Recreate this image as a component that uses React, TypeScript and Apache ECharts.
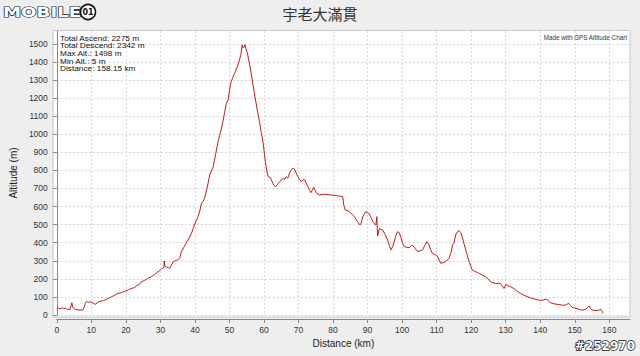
import React, { useEffect, useRef } from "react";
import * as echarts from "echarts";

const title = "宇老大滿貫";
const statsLines = [
  "Total Ascend: 2275 m",
  "Total Descend: 2342 m",
  "Max Alt.: 1498 m",
  "Min Alt.: 5 m",
  "Distance: 158.15 km",
];
const creditText = "Made with GPS Altitude Chart";
const watermark = "#252970";
const xName = "Distance (km)";
const yName = "Altitude (m)";
const xTicks = [0, 10, 20, 30, 40, 50, 60, 70, 80, 90, 100, 110, 120, 130, 140, 150, 160];
const yTicks = [0, 100, 200, 300, 400, 500, 600, 700, 800, 900, 1000, 1100, 1200, 1300, 1400, 1500];

const distanceKm = [
  0, 0.5, 1, 1.5, 2, 2.5, 3, 3.8, 4.2, 4.35, 4.6, 5, 5.5, 6.5, 7.5, 8.0, 8.3, 8.7, 9.2, 9.6,
  10.2, 10.8, 11.3, 12, 12.8, 13.5, 14.2, 14.9, 15.6, 16.3, 17.0, 17.8, 18.5, 19.2, 20, 20.8, 21.5, 22.2, 22.6, 23.3,
  24, 24.5, 25.2, 26, 26.7, 27.4, 28.2, 29, 30, 30.6, 31.0, 31.1, 31.3, 31.8, 32.3, 32.7, 33.2, 33.7, 34.3, 35,
  35.6, 36.1, 36.8, 37.4, 38, 38.5, 39, 39.5, 40, 40.5, 40.9, 41.4, 41.9, 42.4, 42.8, 43.5, 44.3, 45.3, 46.0, 46.7,
  47.4, 48.1, 48.6, 49.1, 49.6, 50.0, 50.5, 51.0, 51.5, 52.2, 52.9, 53.3, 53.7, 53.95, 54.2, 54.5, 54.8, 55.2, 55.8, 56.3,
  56.8, 57.3, 58.0, 58.7, 59.2, 59.7, 60.2, 60.6, 61.0, 61.3, 61.9, 62.4, 62.9, 63.4, 64.0, 64.5, 65, 65.6, 66.0, 66.4,
  66.9, 67.5, 68.2, 68.6, 69.0, 69.8, 70.3, 70.8, 71.3, 71.8, 72.2, 72.7, 73.2, 73.6, 74.0, 74.4, 74.8, 75.1, 76, 77.5,
  79.4, 81, 82.8, 83.1, 83.5, 84.1, 84.7, 85.5, 86.2, 87.1, 87.8, 88.2, 88.6, 89.5, 90.0, 90.5, 91.0, 91.5, 92.0, 92.4,
  92.7, 92.8, 92.9, 93.4, 94.4, 95.1, 95.8, 96.3, 96.8, 97.3, 97.7, 98.2, 98.7, 99.2, 99.6, 100.1, 100.6, 101.3, 102, 102.5,
  103, 103.7, 104.5, 105.2, 105.9, 106.6, 107.2, 107.8, 108.3, 108.8, 109.3, 109.8, 110.2, 110.7, 111.2, 111.9, 112.6, 113.1, 113.6, 114.1,
  114.6, 115.0, 115.5, 116.0, 116.5, 117.0, 117.4, 118.0, 118.7, 119.5, 120.3, 121.0, 121.8, 122.5, 123.2, 124.2, 124.9, 125.6, 126.3, 127,
  128.5, 129.0, 129.5, 130.1, 130.7, 131.4, 132.2, 132.9, 133.6, 134.3, 135.2, 136.2, 137.2, 138.2, 139.2, 140.1, 141.0, 141.8, 142.4, 143,
  144, 144.9, 146, 146.9, 147.6, 148.3, 148.8, 149.3, 150, 150.7, 151.4, 152.1, 153.1, 153.7, 154.2, 154.6, 155, 155.8, 156.5, 157.1,
  157.6, 158.0, 158.2,
];
const altitudeM = [
  30, 38, 35, 40, 36, 38, 32, 30, 55, 68, 45, 35, 30, 28, 28, 45, 70, 75, 68, 74,
  70, 62, 60, 72, 76, 80, 85, 92, 98, 105, 112, 120, 122, 128, 134, 140, 146, 150, 153, 165,
  170, 184, 190, 198, 206, 212, 222, 235, 249, 258, 262, 299, 270, 265, 262, 258, 275, 295, 300, 305,
  314, 350, 375, 395, 415, 432, 452, 478, 507, 525, 544, 575, 618, 630, 646, 700, 775, 821, 890, 959,
  1010, 1070, 1120, 1171, 1190, 1240, 1291, 1315, 1337, 1370, 1411, 1440, 1494, 1478, 1480, 1495, 1470, 1448, 1390, 1337,
  1275, 1217, 1140, 1070, 1010, 959, 880, 821, 780, 765, 760, 735, 716, 710, 725, 735, 747, 755, 750, 765,
  757, 790, 810, 812, 800, 765, 750, 738, 748, 747, 730, 710, 690, 677, 690, 707, 690, 677, 664, 668,
  664, 660, 655, 609, 581, 578, 572, 558, 544, 516, 498, 510, 544, 572, 565, 560, 540, 516, 505, 498,
  544, 480, 437, 478, 470, 445, 415, 385, 360, 380, 405, 440, 461, 455, 433, 400, 378, 375, 373, 380,
  387, 370, 350, 355, 360, 385, 405, 387, 360, 341, 335, 332, 327, 305, 286, 290, 295, 305, 313, 341,
  387, 397, 443, 460, 467, 455, 433, 390, 341, 290, 249, 242, 235, 228, 221, 212, 200, 184, 178, 175,
  175, 160, 147, 169, 162, 157, 148, 138, 128, 120, 110, 102, 95, 89, 84, 80, 84, 87, 78, 68,
  62, 59, 56, 53, 58, 65, 52, 42, 38, 35, 30, 27, 31, 40, 50, 35, 27, 25, 24, 28,
  31, 20, 9,
];

const FONT = "Liberation Sans";

export default function App() {
  const ref = useRef<HTMLDivElement>(null);
  useEffect(() => {
    if (!ref.current) return;
    const chart = echarts.init(ref.current, null, { renderer: "svg" });
    const points = distanceKm.map((d, i) => [d, altitudeM[i]]);
    const statsTexts = statsLines.map((line, i) => ({
      type: "text",
      x: 60,
      y: 38.4 + i * 7.6,
      z: 10,
      scaleX: 1.12,
      style: {
        text: line,
        fontSize: 7.4,
        fill: "#111",
        fontFamily: FONT,
        align: "left",
        verticalAlign: "middle",
      },
    }));
    chart.setOption({
      animation: false,
      backgroundColor: "#eeeeee",
      textStyle: { fontFamily: FONT },
      grid: { left: 55, right: 10, top: 31, bottom: 41, containLabel: false },
      xAxis: {
        type: "value",
        min: 0,
        max: 166,
        interval: 10,
        offset: 4,
        name: xName,
        nameLocation: "middle",
        nameGap: 18,
        nameTextStyle: { fontSize: 10, color: "#222", fontFamily: FONT },
        axisLine: { show: true, onZero: false, lineStyle: { color: "#888", width: 1 } },
        axisTick: { show: true, length: 4, customValues: xTicks, lineStyle: { color: "#888" } },
        axisLabel: {
          customValues: xTicks,
          fontSize: 8.5,
          color: "#333",
          margin: 6,
          fontFamily: FONT,
          formatter: (v: number) => (v % 10 === 0 ? String(v) : ""),
        },
        splitLine: { show: true, lineStyle: { color: "#d6d6d6", type: [2, 2], width: 1 } },
      },
      yAxis: {
        type: "value",
        min: 0,
        max: 1571,
        interval: 100,
        offset: 3,
        name: yName,
        nameLocation: "middle",
        nameGap: 30,
        nameTextStyle: { fontSize: 10, color: "#222", fontFamily: FONT },
        axisLine: { show: true, lineStyle: { color: "#888", width: 1 } },
        axisTick: { show: true, length: 4, customValues: yTicks, lineStyle: { color: "#888" } },
        axisLabel: {
          customValues: yTicks,
          fontSize: 8.5,
          color: "#333",
          margin: 6,
          fontFamily: FONT,
          formatter: (v: number) => (v % 100 === 0 ? String(v) : ""),
        },
        splitLine: { show: true, lineStyle: { color: "#d6d6d6", type: [2, 2], width: 1 } },
      },
      graphic: [
        {
          type: "rect",
          z: -10,
          silent: true,
          shape: { x: 53, y: 30.5, width: 577, height: 286.5 },
          style: { fill: "#ffffff", stroke: "#c8c8c8", lineWidth: 1 },
        },
        {
          type: "text",
          x: 320,
          y: 13,
          style: {
            text: title,
            fontSize: 15,
            fill: "#333",
            fontFamily: "Noto Sans CJK TC",
            align: "center",
            verticalAlign: "middle",
          },
        },
        ...statsTexts,
        {
          type: "text",
          x: 627,
          y: 37,
          z: 10,
          style: {
            text: creditText,
            fontSize: 6.3,
            fill: "#333",
            fontFamily: FONT,
            align: "right",
            verticalAlign: "middle",
          },
        },
        {
          type: "text",
          x: 635,
          y: 346,
          style: {
            text: watermark,
            fontSize: 12,
            fontWeight: "bold",
            fill: "#ffffff",
            stroke: "#111",
            lineWidth: 1.3,
            fontFamily: "DejaVu Sans",
            align: "right",
            verticalAlign: "middle",
          },
        },
        {
          type: "text",
          x: 3,
          y: 12,
          scaleX: 1.3,
          style: {
            text: "MOBILE",
            fontSize: 14,
            fontWeight: "bold",
            fill: "#ffffff",
            stroke: "#111",
            lineWidth: 1.2,
            fontFamily: "DejaVu Sans",
            align: "left",
            verticalAlign: "middle",
          },
        },
        {
          type: "circle",
          shape: { cx: 88, cy: 12, r: 7.5 },
          style: { fill: "#fff", stroke: "#111", lineWidth: 1.6 },
        },
        {
          type: "text",
          x: 88,
          y: 12.5,
          style: {
            text: "01",
            fontSize: 8,
            fontWeight: "bold",
            fill: "#111",
            fontFamily: "DejaVu Sans",
            align: "center",
            verticalAlign: "middle",
          },
        },
      ],
      series: [
        {
          type: "line",
          data: points,
          showSymbol: false,
          symbol: "none",
          z: 5,
          lineStyle: { color: "#c41a1a", width: 1 },
        },
      ],
    });
    return () => chart.dispose();
  }, []);
  return (
    <div
      ref={ref}
      style={{ position: "absolute", left: 0, top: 0, width: 640, height: 356 }}
    />
  );
}
